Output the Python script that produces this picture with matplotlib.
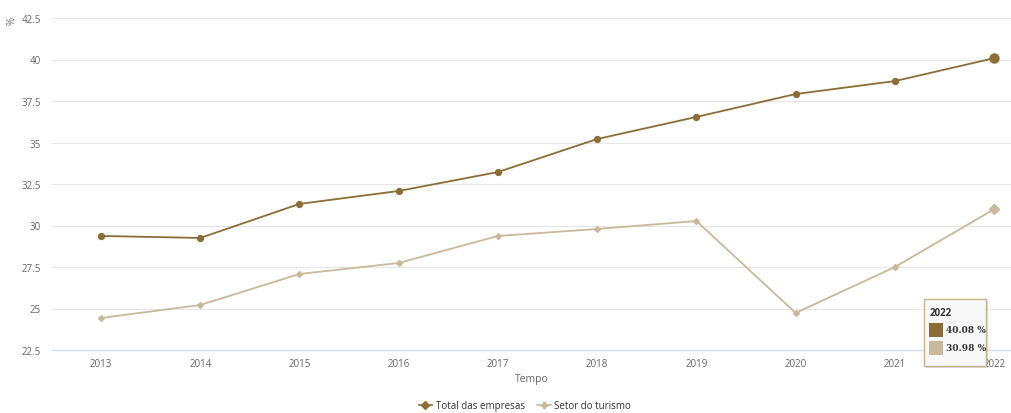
import matplotlib
matplotlib.use("Agg")
import matplotlib.pyplot as plt
from matplotlib.patches import Rectangle
from matplotlib.lines import Line2D

years = [2013, 2014, 2015, 2016, 2017, 2018, 2019, 2020, 2021, 2022]
total_empresas = [29.37, 29.25, 31.3, 32.08, 33.22, 35.21, 36.54, 37.92, 38.7, 40.08]
setor_turismo = [24.43, 25.21, 27.08, 27.74, 29.37, 29.79, 30.27, 24.73, 27.5, 30.98]
yticks = [22.5, 25, 27.5, 30, 32.5, 35, 37.5, 40, 42.5]
ytick_labels = ["22.5", "25", "27.5", "30", "32.5", "35", "37.5", "40", "42.5"]

c_total = "#8C6D36"
c_setor = "#C9B99B"
txt = "#666666"

plt.rcParams['font.family'] = ['Open Sans', 'DejaVu Sans']

W, H = 1011, 414
fig = plt.figure(figsize=(W / 100, H / 100), dpi=100)
ax = fig.add_axes([52 / W, 1 - 351 / H, (W - 52) / W, (351 - 19) / H])

ax.plot(years, total_empresas, color=c_total, lw=1.3, marker='o', ms=4.2, zorder=3)
ax.plot(years, setor_turismo, color=c_setor, lw=1.3, marker='D', ms=3.0, zorder=3)
ax.plot([years[-1]], [total_empresas[-1]], 'o', color=c_total, ms=6.5, zorder=4)
ax.plot([years[-1]], [setor_turismo[-1]], 'D', color=c_setor, ms=5, zorder=4)

ax.set_xlim(2012.506, 2022.17)
ax.set_ylim(22.5, 42.5)
ax.set_yticks(yticks)
ax.set_yticklabels(ytick_labels)
ax.set_xticks(years)
ax.set_xticklabels([str(y) for y in years])
ax.grid(axis='y', color='#E6E6E6', lw=0.8)
ax.set_axisbelow(True)
for s in ['top', 'right', 'left']:
    ax.spines[s].set_visible(False)
ax.spines['bottom'].set_color('#D6DDEA')
ax.spines['bottom'].set_linewidth(1.0)
ax.tick_params(axis='both', length=0, labelsize=7, colors=txt)
ax.tick_params(axis='y', pad=8)
ax.tick_params(axis='x', pad=6)
ax.set_xlabel("Tempo", fontsize=7.5, color=txt, labelpad=3)
fig.text(12 / W, 1 - 21 / H, "%", rotation=90, fontsize=7, color=txt, ha='center', va='center')

# legend
handles = [Line2D([], [], color=c_total, marker='D', ms=4, lw=1.2),
           Line2D([], [], color=c_setor, marker='P', ms=4, lw=1.2)]
fig.legend(handles, ["Total das empresas", "Setor do turismo"], loc='center',
           bbox_to_anchor=(525 / W, 1 - 407 / H), ncol=2, frameon=False,
           fontsize=7, handlelength=1.4, columnspacing=1.2, handletextpad=0.4,
           labelcolor='#333333')

# tooltip
x0, y0, w, h = 924 / W, 1 - 367 / H, 62 / W, 67 / H
shadow = Rectangle((x0 + 2 / W, y0 - 2 / H), w, h, transform=fig.transFigure,
                   facecolor='#00000022', edgecolor='none', zorder=9)
fig.patches.append(shadow)
box = Rectangle((x0, y0), w, h, transform=fig.transFigure, facecolor='#F8F8F8',
                edgecolor='#C4B48E', lw=1.0, zorder=10)
fig.patches.append(box)
fig.text(930 / W, 1 - 314 / H, "2022", fontsize=7, fontweight='bold', color='#333333',
         ha='left', va='center', zorder=11)
for i, (c, v) in enumerate([(c_total, total_empresas[-1]), (c_setor, setor_turismo[-1])]):
    yc = 331 + i * 18
    sq = Rectangle((929 / W, 1 - (yc + 7) / H), 14 / W, 14 / H, transform=fig.transFigure,
                   facecolor=c, edgecolor='none', zorder=11)
    fig.patches.append(sq)
    fig.text(946 / W, 1 - yc / H, f"{v:.2f} %", fontsize=6.5, fontweight='bold',
             color='#333333', ha='left', va='center', family=['DejaVu Serif'], zorder=11)

fig.savefig("out.png", dpi=100, facecolor='white')
